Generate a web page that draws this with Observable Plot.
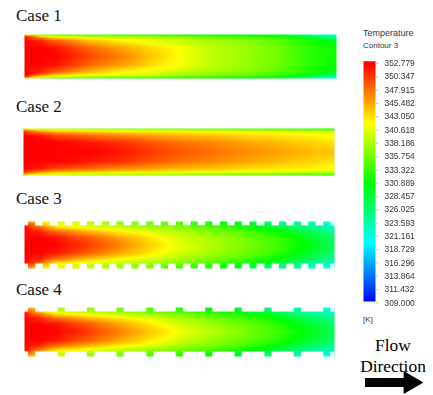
<!DOCTYPE html>
<html>
<head>
<meta charset="utf-8">
<script src="https://cdn.jsdelivr.net/npm/d3@7"></script>
<script src="https://cdn.jsdelivr.net/npm/@observablehq/plot@0.6"></script>
<style>
html,body{margin:0;padding:0;background:#fff;}
#page{position:relative;width:433px;height:395px;overflow:hidden;background:#fff;}
#page>*{position:absolute;}
.case{font:17px "Liberation Serif",serif;color:#111;line-height:20px;white-space:nowrap;}
.flow{font:17.4px "Liberation Serif",serif;color:#000;line-height:20px;white-space:nowrap;text-align:center;width:88px;left:349px;}
.leg{font-family:"Liberation Sans",sans-serif;color:#333;white-space:nowrap;line-height:12px;}
</style>
</head>
<body>
<div id="page"></div>
<script>
// Stations along the channel (fraction of length)
const stations = [0, 0.05, 0.1, 0.2, 0.3, 0.4, 0.5, 0.6, 0.7, 0.8, 0.9, 0.95, 1];

// Wall-normal rows (fraction of half-height)
const plainRows = [0, 0.4, 0.7, 0.85, 0.95, 1];
const finnedRows = [0, 0.4, 0.7, 0.9, 1, 1.22];

const case1Row0 = [352.8, 352.8, 352.8, 350, 347.5, 344.5, 341.8, 339, 337.5, 336, 333, 332, 331.5];
const case1Row1 = [352.8, 352.8, 352, 348.5, 346, 343.5, 341.5, 339, 337.5, 336, 333, 332, 331];
const case1Row2 = [352.8, 351.5, 349, 345, 342.5, 341, 339.5, 338, 337, 335, 332.5, 331, 329.5];
const case1Row3 = [352.8, 347.5, 344, 341.5, 340.5, 339.5, 338, 336.5, 335, 333.5, 330.5, 328, 326];
const case1Row4 = [350, 341, 338.5, 337, 336, 335.5, 334, 333, 332, 331, 327.5, 324, 322];
const case1Row5 = [338, 333, 332, 331.5, 331, 330.5, 330, 329.5, 329, 328, 324.5, 321, 319];

const case2Row0 = [352.8, 352.8, 352.8, 352.8, 352, 350.5, 349, 348, 347, 346, 345, 344.5, 344.5];
const case2Row1 = [352.8, 352.8, 352.8, 352, 351, 349.5, 348, 347, 346, 345, 344, 343.5, 343];
const case2Row2 = [352.8, 352, 350, 348.5, 347, 346, 345, 344.5, 343.5, 343, 342.3, 342, 341.8];
const case2Row3 = [351, 347.5, 345.5, 344.5, 343.5, 343, 342.5, 342, 341.5, 341, 340.5, 340, 340];
const case2Row4 = [346, 342, 341, 340, 339.5, 339, 338.5, 338, 337.5, 337, 336, 335.5, 335.5];
const case2Row5 = [340, 336, 336, 335, 334.5, 334, 333.5, 333, 332.5, 332, 331, 330.5, 330.5];

const case3Row0 = [352.8, 352.8, 352.8, 350.5, 347.5, 344, 341, 338.5, 336.5, 334, 331, 329, 327.5];
const case3Row1 = [352.8, 352.8, 352, 349, 346, 343, 340, 338, 336, 333.5, 330, 328, 326.5];
const case3Row2 = [352.8, 351.5, 348.5, 345, 342.5, 340.5, 338.5, 336.5, 334.5, 331.5, 328, 326, 325];
const case3Row3 = [352.8, 349, 344, 341.5, 340, 338.5, 337, 335, 332.5, 329.5, 326, 324.5, 323.5];
const case3Row4 = [352, 345.5, 342, 340, 338.5, 337, 335.5, 333, 331, 327.5, 325, 323, 322];
const case3Row5 = [347, 343, 340.5, 339, 337, 335.5, 334, 331.5, 329, 326, 323.5, 321.5, 320];

const case4Row0 = [352.8, 352.8, 352.8, 350.5, 347.5, 344.5, 341.5, 339, 336.5, 334, 331, 329, 327.5];
const case4Row1 = [352.8, 352.8, 352, 349, 346, 343, 340, 337.5, 335.5, 333, 329.5, 328, 326.5];
const case4Row2 = [352.8, 351, 348, 345, 342.5, 340.5, 338, 336, 334, 331, 327.5, 326, 325];
const case4Row3 = [352.5, 347.5, 343, 341, 339.5, 337.5, 336, 334, 331.5, 329, 325.5, 324, 323.5];
const case4Row4 = [351, 344, 340, 338.5, 337, 335.5, 334, 332, 330, 327, 324.5, 323, 322];
const case4Row5 = [346, 342, 339, 337, 335.5, 334, 332.5, 330, 328, 325, 323, 321.5, 320];

// Fin centres along the channel
const case3Fins = [0.025, 0.072, 0.12, 0.168, 0.215, 0.263, 0.31, 0.358, 0.406, 0.453, 0.501, 0.549, 0.596, 0.644, 0.691, 0.739, 0.787, 0.834, 0.882, 0.929, 0.977];
const case4Fins = [0.025, 0.12, 0.215, 0.31, 0.406, 0.501, 0.596, 0.691, 0.787, 0.882, 0.977];
const finWidth = 0.024;

// Colour bar
const legendTicks = [352.779, 350.347, 347.915, 345.482, 343.050, 340.618, 338.186, 335.754, 333.322, 330.889, 328.457, 326.025, 323.593, 321.161, 318.729, 316.296, 313.864, 311.432, 309.000];
const colorStops = [309, 319.945, 330.889, 341.834, 352.779];
const colorRamp = ["#0000ff", "#00ffff", "#00ff00", "#ffff00", "#ff0000"];
const barBounds = [309.24, 353.2];

// Arrow
const flowShaft = [0, 0.82];
const flowHead = [0.86];

const color = {type: "linear", domain: colorStops, range: colorRamp, clamp: true, interpolate: "rgb"};
const page = document.getElementById("page");

function place(el, left, top) {
  el.style.left = left + "px";
  el.style.top = top + "px";
  page.appendChild(el);
  return el;
}

function label(text, cls, left, top, size) {
  const d = document.createElement("div");
  d.className = cls;
  d.textContent = text;
  if (size) d.style.fontSize = size + "px";
  page.appendChild(d);
  if (left != null) d.style.left = left + "px";
  d.style.top = top + "px";
  return d;
}

function panel(rows, rowValues, fins, left, top, width, height) {
  const maxRow = rows[rows.length - 1];
  const cells = [];
  rows.forEach((r, i) => {
    stations.forEach((s, j) => {
      cells.push({x: s, y: r, t: rowValues[i][j]});
      if (r !== 0) cells.push({x: s, y: -r, t: rowValues[i][j]});
    });
  });
  const marks = [
    Plot.raster(cells, {x: "x", y: "y", fill: "t", interpolate: "barycentric", pixelSize: 1, imageRendering: "auto"})
  ];
  if (fins) {
    const gaps = [];
    let prev = 0;
    for (const c of fins) {
      gaps.push({a: prev, b: c - finWidth / 2});
      prev = c + finWidth / 2;
    }
    gaps.push({a: prev, b: 1});
    const mask = {x1: "a", x2: "b", fill: "white", stroke: "white", strokeWidth: 0.2};
    marks.push(Plot.rect(gaps, {...mask, y1: 1, y2: maxRow + 0.05}));
    marks.push(Plot.rect(gaps, {...mask, y1: -1, y2: -maxRow - 0.05}));
  }
  const p = Plot.plot({
    width, height,
    margin: 0,
    x: {domain: [0, 1], axis: null},
    y: {domain: [-maxRow, maxRow], axis: null},
    color,
    style: {background: "transparent", filter: "blur(0.5px)", overflow: "visible"},
    marks
  });
  return place(p, left, top);
}

panel(plainRows, [case1Row0, case1Row1, case1Row2, case1Row3, case1Row4, case1Row5], null, 24, 34, 312, 44);
panel(plainRows, [case2Row0, case2Row1, case2Row2, case2Row3, case2Row4, case2Row5], null, 23, 128, 311, 47);
panel(finnedRows, [case3Row0, case3Row1, case3Row2, case3Row3, case3Row4, case3Row5], case3Fins, 24, 221, 310, 47);
panel(finnedRows, [case4Row0, case4Row1, case4Row2, case4Row3, case4Row4, case4Row5], case4Fins, 24, 307, 310, 49);

label("Case 1", "case", 16, 5.5);
label("Case 2", "case", 16, 97);
label("Case 3", "case", 16, 189);
label("Case 4", "case", 16, 280);

label("Temperature", "leg", 363, 27, 9);
label("Contour 3", "leg", 363, 40, 8);
label("[K]", "leg", 363, 314, 8);

const legend = Plot.plot({
  width: 88,
  height: 265,
  marginLeft: 18,
  marginRight: 58,
  marginTop: 13,
  marginBottom: 12.7,
  x: {domain: [0, 1], axis: null},
  y: {domain: [309, 352.779]},
  color,
  style: {background: "transparent", overflow: "visible", fontFamily: "Liberation Sans", fontSize: "8.4px", color: "#333", filter: "blur(0.25px)"},
  marks: [
    Plot.raster({fill: (x, y) => y, x1: 0, x2: 1, y1: barBounds[0], y2: barBounds[1], pixelSize: 1}),
    Plot.axisY({anchor: "right", ticks: legendTicks, tickFormat: d3.format(".3f"), tickSize: 2, tickPadding: 7, label: null, stroke: "#bbb", fill: "#333"})
  ]
});
place(legend, 345, 50);

label("Flow", "flow", null, 335);
label("Direction", "flow", null, 356);

const arrow = Plot.plot({
  width: 52,
  height: 20,
  margin: 0,
  x: {domain: [0, 1], axis: null},
  y: {domain: [0, 1], axis: null},
  style: {background: "transparent", overflow: "visible"},
  marks: [
    Plot.ruleY([0.5], {x1: flowShaft[0], x2: flowShaft[1], stroke: "#000", strokeWidth: 9}),
    Plot.dot(flowHead, {x: d => d, y: 0.5, symbol: "triangle", r: 8.5, rotate: 90, fill: "#000", stroke: "none"})
  ]
});
place(arrow, 365, 372);
</script>
</body>
</html>
